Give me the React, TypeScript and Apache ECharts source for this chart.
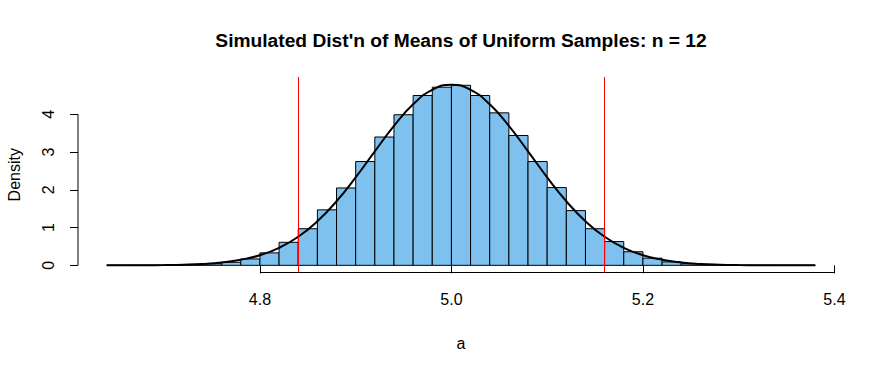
import React, { useEffect, useRef } from "react";
import * as echarts from "echarts";

// Histogram bins (left edges) and densities
const binWidth = 0.02;
const binLefts = [
  4.64, 4.66, 4.68, 4.70, 4.72, 4.74, 4.76, 4.78, 4.80, 4.82, 4.84, 4.86, 4.88,
  4.90, 4.92, 4.94, 4.96, 4.98, 5.00, 5.02, 5.04, 5.06, 5.08, 5.10, 5.12, 5.14,
  5.16, 5.18, 5.20, 5.22, 5.24, 5.26, 5.28, 5.30, 5.32, 5.34, 5.36,
];
const binDensity = [
  0.001, 0.002, 0.004, 0.008, 0.018, 0.04, 0.08, 0.17, 0.33, 0.61, 0.97, 1.47,
  2.05, 2.75, 3.4, 3.99, 4.5, 4.72, 4.77, 4.5, 4.04, 3.44, 2.75, 2.06, 1.45,
  0.97, 0.63, 0.36, 0.19, 0.09, 0.04, 0.016, 0.007, 0.003, 0.0015, 0.0007,
  0.0003,
];

// Overlaid density curve
const curveX = [
  4.64, 4.66, 4.68, 4.70, 4.72, 4.74, 4.76, 4.78, 4.80, 4.82, 4.84, 4.86, 4.88,
  4.90, 4.92, 4.94, 4.96, 4.98, 5.00, 5.02, 5.04, 5.06, 5.08, 5.10, 5.12, 5.14,
  5.16, 5.18, 5.20, 5.22, 5.24, 5.26, 5.28, 5.30, 5.32, 5.34, 5.36, 5.38,
];
const curveY = [
  0.0003, 0.001, 0.003, 0.007, 0.017, 0.037, 0.076, 0.147, 0.269, 0.464, 0.758,
  1.167, 1.697, 2.33, 3.02, 3.694, 4.266, 4.651, 4.787, 4.651, 4.266, 3.694,
  3.02, 2.33, 1.697, 1.167, 0.758, 0.464, 0.269, 0.147, 0.076, 0.037, 0.017,
  0.007, 0.003, 0.001, 0.0003, 0.0001,
];

// Reference lines
const refLines = [4.837, 5.163];

// Axis ticks
const xTicks = [4.8, 5.0, 5.2, 5.4];
const yTicks = [0, 1, 2, 3, 4];

const title = "Simulated Dist'n of Means of Uniform Samples: n = 12";
const xName = "a";
const yName = "Density";

const X_MIN = 4.61;
const X_MAX = 5.41;
const Y_MIN = -0.19;
const Y_MAX = 4.99;

const FONT = "'Liberation Sans', Arial, sans-serif";

export default function App() {
  const ref = useRef<HTMLDivElement>(null);

  useEffect(() => {
    if (!ref.current) return;
    const chart = echarts.init(ref.current, undefined, { renderer: "svg" });

    const histData = binLefts.map((l, i) => [l, l + binWidth, binDensity[i]]);
    const curveData = curveX.map((x, i) => [x, curveY[i]]);

    const gridLeft = 78;
    const gridRight = 40;
    const gridTop = 77;
    const gridBottom = 98.5;
    const plotCenterX = gridLeft + (884 - gridLeft - gridRight) / 2;
    const plotCenterY = gridTop + (371 - gridTop - gridBottom) / 2;

    const option: any = {
      animation: false,
      backgroundColor: "#ffffff",
      grid: { left: gridLeft, right: gridRight, top: gridTop, bottom: gridBottom },
      xAxis: {
        type: "value",
        min: X_MIN,
        max: X_MAX,
        axisLine: { show: false },
        splitLine: { show: false },
        axisTick: {
          show: true,
          length: 8,
          customValues: xTicks,
          lineStyle: { color: "#000", width: 1 },
        },
        axisLabel: {
          show: true,
          customValues: xTicks,
          formatter: (v: number) => v.toFixed(1),
          margin: 19,
          color: "#000",
          fontSize: 16,
          fontFamily: FONT,
        },
      },
      yAxis: {
        type: "value",
        min: Y_MIN,
        max: Y_MAX,
        axisLine: { show: false },
        splitLine: { show: false },
        axisTick: {
          show: true,
          length: 8,
          customValues: yTicks,
          lineStyle: { color: "#000", width: 1 },
        },
        axisLabel: {
          show: true,
          customValues: yTicks,
          rotate: 90,
          margin: 22,
          align: "center",
          verticalAlign: "bottom",
          color: "#000",
          fontSize: 16,
          fontFamily: FONT,
        },
      },
      graphic: [
        {
          type: "text",
          x: plotCenterX,
          y: 40,
          style: {
            text: title,
            fontSize: 19.2,
            fontWeight: "bold",
            fontFamily: FONT,
            fill: "#000",
            textAlign: "center",
            textVerticalAlign: "middle",
          },
        },
        {
          type: "text",
          x: plotCenterX,
          y: 343,
          style: {
            text: xName,
            fontSize: 16,
            fontFamily: FONT,
            fill: "#000",
            textAlign: "center",
            textVerticalAlign: "middle",
          },
        },
        {
          type: "text",
          x: 14,
          y: plotCenterY,
          rotation: Math.PI / 2,
          style: {
            text: yName,
            fontSize: 16,
            fontFamily: FONT,
            fill: "#000",
            textAlign: "center",
            textVerticalAlign: "middle",
          },
        },
      ],
      series: [
        {
          type: "custom",
          name: "hist",
          data: histData,
          encode: { x: [0, 1], y: 2 },
          renderItem: (params: any, api: any) => {
            const x0 = api.value(0);
            const x1 = api.value(1);
            const h = api.value(2);
            const p0 = api.coord([x0, h]);
            const p1 = api.coord([x1, 0]);
            return {
              type: "rect",
              shape: {
                x: p0[0],
                y: p0[1],
                width: p1[0] - p0[0],
                height: p1[1] - p0[1],
              },
              style: { fill: "#7EC0EE", stroke: "#000", lineWidth: 1 },
            };
          },
          z: 1,
        },
        {
          type: "line",
          name: "refs",
          data: [],
          markLine: {
            silent: true,
            symbol: ["none", "none"],
            label: { show: false },
            lineStyle: { color: "#ff0000", width: 1, type: "solid" },
            data: refLines.map((v) => ({ xAxis: v })),
          },
          z: 2,
        },
        {
          type: "line",
          name: "curve",
          data: curveData,
          smooth: true,
          showSymbol: false,
          symbol: "none",
          lineStyle: { color: "#000", width: 2 },
          z: 3,
        },
        {
          type: "line",
          name: "xaxisline",
          data: [
            [xTicks[0], Y_MIN],
            [xTicks[xTicks.length - 1], Y_MIN],
          ],
          clip: false,
          showSymbol: false,
          symbol: "none",
          lineStyle: { color: "#000", width: 1 },
          z: 4,
        },
        {
          type: "line",
          name: "yaxisline",
          data: [
            [X_MIN, yTicks[0]],
            [X_MIN, yTicks[yTicks.length - 1]],
          ],
          clip: false,
          showSymbol: false,
          symbol: "none",
          lineStyle: { color: "#000", width: 1 },
          z: 4,
        },
      ],
    };

    chart.setOption(option);
    return () => chart.dispose();
  }, []);

  return (
    <div
      ref={ref}
      style={{ position: "absolute", left: 0, top: 0, width: 884, height: 371 }}
    />
  );
}
